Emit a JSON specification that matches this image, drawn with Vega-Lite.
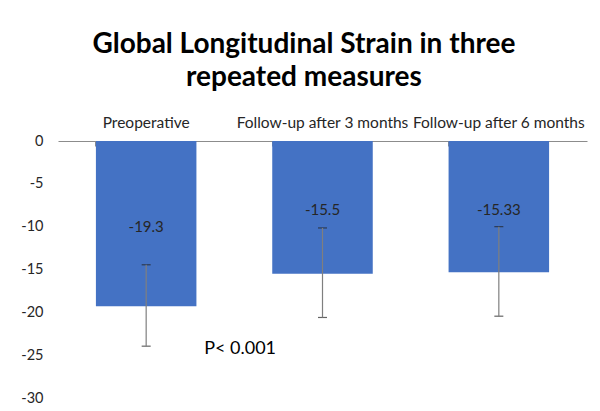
{
  "$schema": "https://vega.github.io/schema/vega-lite/v6.json",
  "width": 529,
  "height": 257,
  "autosize": "none",
  "padding": {"left": 58, "top": 141, "right": 13, "bottom": 13},
  "background": "white",
  "config": {
    "view": {"stroke": null},
    "font": "Lato",
    "title": {"font": "Lato", "fontWeight": "bold", "fontSize": 28, "color": "#000000", "anchor": "middle", "frame": "bounds", "lineHeight": 33, "offset": 23}
  },
  "title": {"text": ["Global Longitudinal Strain in three", "repeated measures"]},
  "data": {
    "values": [
      {"cat": "Preoperative", "value": -19.3, "lo": -23.95, "hi": -14.45, "label": "-19.3"},
      {"cat": "Follow-up after 3 months", "value": -15.5, "lo": -20.6, "hi": -10.15, "label": "-15.5"},
      {"cat": "Follow-up after 6 months", "value": -15.33, "lo": -20.45, "hi": -10.0, "label": "-15.33"}
    ]
  },
  "encoding": {
    "x": {
      "field": "cat", "type": "nominal", "sort": null, "title": null,
      "scale": {"paddingInner": 0.43, "paddingOuter": 0.215},
      "axis": {"orient": "top", "labelAngle": 0, "labelFont": "Lato", "labelFontSize": 15.5, "labelColor": "#262626",
               "domainColor": "#8c8c8c", "tickColor": "#8c8c8c", "tickSize": -5, "bandPosition": 0, "labelPadding": 16}
    }
  },
  "layer": [
    {
      "mark": {"type": "bar", "color": "#4472C4"},
      "encoding": {
        "y": {"field": "value", "type": "quantitative", "title": null,
              "scale": {"domain": [-30, 0], "nice": false},
              "axis": {"values": [0, -5, -10, -15, -20, -25, -30], "domain": false, "ticks": false, "grid": false,
                       "labelExpr": "toString(datum.value)",
                       "labelFont": "Lato", "labelFontSize": 14.5, "labelColor": "#262626", "labelPadding": 15}}
      }
    },
    {
      "transform": [{"calculate": "datum.value / 2", "as": "mid"}],
      "mark": {"type": "text", "font": "Lato", "fontSize": 15, "color": "#262626", "baseline": "middle", "dy": 3},
      "encoding": {
        "y": {"field": "mid", "type": "quantitative"},
        "text": {"field": "label"}
      }
    },
    {
      "mark": {"type": "errorbar", "ticks": {"color": "#222222", "size": 9, "thickness": 1.2}, "rule": {"color": "#7f7f7f", "strokeWidth": 1.2}},
      "encoding": {
        "y": {"field": "lo", "type": "quantitative"},
        "y2": {"field": "hi"}
      }
    },
    {
      "data": {"values": [{"cat": "Preoperative", "y": -24.3, "label": "P< 0.001"}]},
      "mark": {"type": "text", "font": "Lato", "fontSize": 18, "color": "#000000", "align": "left", "baseline": "middle", "dx": 58},
      "encoding": {
        "y": {"field": "y", "type": "quantitative"},
        "text": {"field": "label"}
      }
    }
  ]
}
